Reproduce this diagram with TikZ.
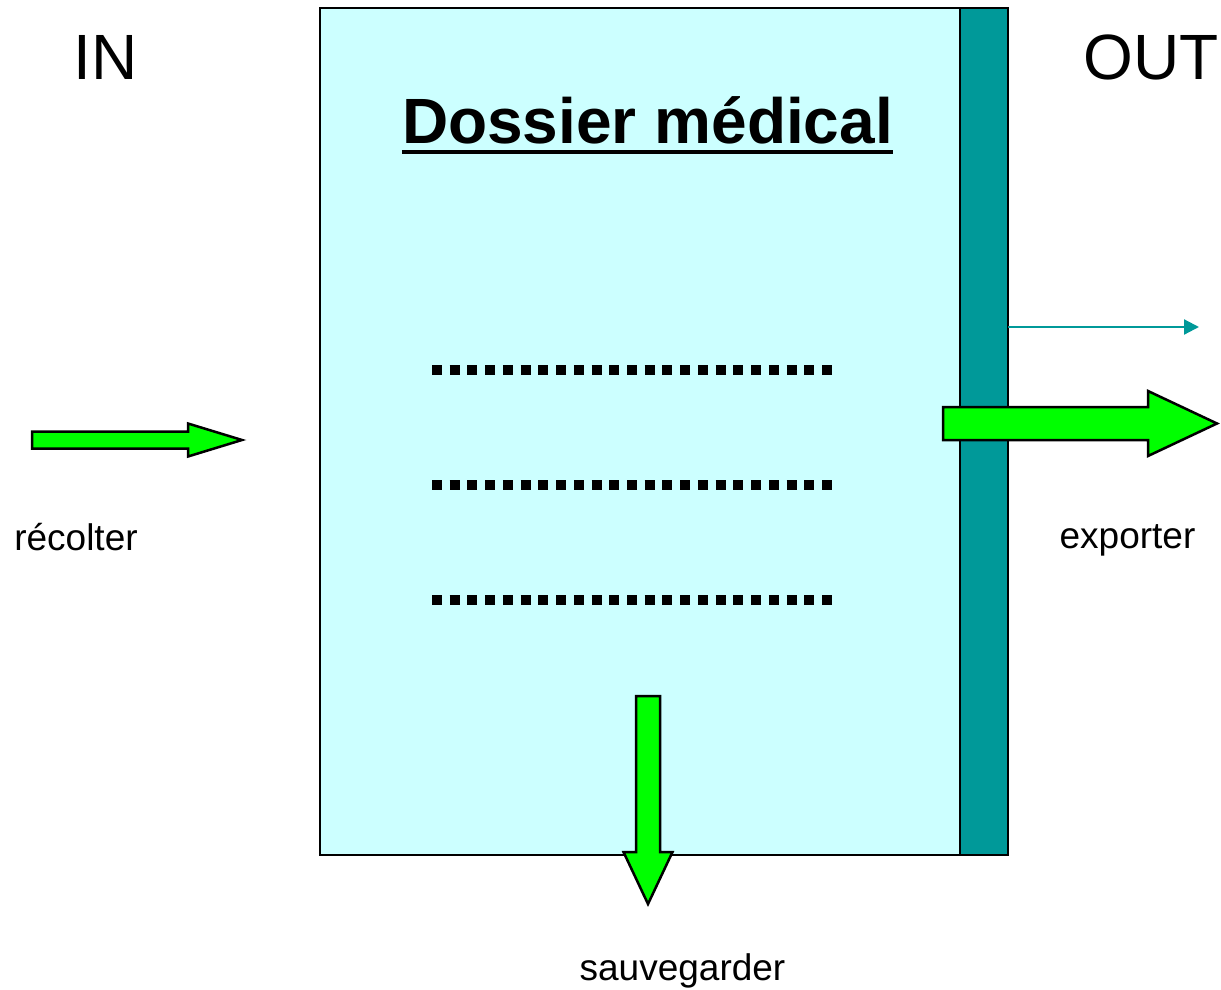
\documentclass[tikz,border=0pt]{standalone}
\usepackage{fontspec}
\setmainfont{Liberation Sans}
\usetikzlibrary{arrows.meta,calc}
\definecolor{folderfill}{HTML}{CCFFFF}
\definecolor{spine}{HTML}{009999}
\definecolor{flowgreen}{HTML}{00FF00}
\begin{document}
\begin{tikzpicture}[x=1pt,y=-1pt,
  panel/.style={draw=black, line width=2pt, outer sep=0pt, inner sep=0pt, anchor=north west},
  flow/.style={draw=black, fill=flowgreen, line width=2.5pt, line join=miter},
  bigword/.style={inner sep=0pt, anchor=base, font=\fontsize{64}{70}\selectfont},
  caption/.style={inner sep=0pt, anchor=base, font=\fontsize{37}{41}\selectfont},
  dotrow/.style={line width=10pt, dash pattern=on 10pt off 7.727pt}]
\useasboundingbox (0,0) rectangle (1221,990);

% record folder and its spine
\node[panel, fill=folderfill, minimum width=640pt, minimum height=847pt] (dossier) at (320,8) {};
\node[panel, fill=spine, line width=2.5pt, minimum width=48pt, minimum height=847pt] (bar) at (960,8) {};

% title
\node[inner sep=0pt, anchor=base, font=\fontsize{64}{70}\selectfont\bfseries] (title) at (647.5,143) {Dossier médical};
\draw[line width=3.5pt] ([yshift=-9pt]title.base west) -- ([yshift=-9pt]title.base east);

% placeholder lines
\draw[dotrow] (432,370) -- (832,370);
\draw[dotrow] (432,485) -- (832,485);
\draw[dotrow] (432,600) -- (832,600);

% side headings
\node[bigword] (in) at (105.5,80) {IN};
\node[bigword] (out) at (1151,80) {OUT};

% incoming flow
\draw[flow] (32,431.5) -- (188,431.5) -- (188,423.5) -- (242,440) -- (188,456.5) -- (188,448.5) -- (32,448.5) -- cycle;
\node[caption] (recolter) at (76,550) {récolter};

% saving flow
\draw[flow] (636,696) -- (660,696) -- (660,852) -- (672.5,852) -- (648,904) -- (623.5,852) -- (636,852) -- cycle;
\node[caption] (sauvegarder) at (682.5,980) {sauvegarder};

% export flow
\draw[flow] (943,407) -- (1148,407) -- (1148,391) -- (1217,423.5) -- (1148,456) -- (1148,440) -- (943,440) -- cycle;
\node[caption] (exporter) at (1127.5,548) {exporter};

% thin link out of the spine
\coordinate (linkstart) at (1008,327);
\coordinate (linkend) at (1199,327);
\draw[spine, line width=2.2pt, -{Triangle[length=15pt,width=15pt]}] (linkstart) -- (linkend);
\end{tikzpicture}
\end{document}
